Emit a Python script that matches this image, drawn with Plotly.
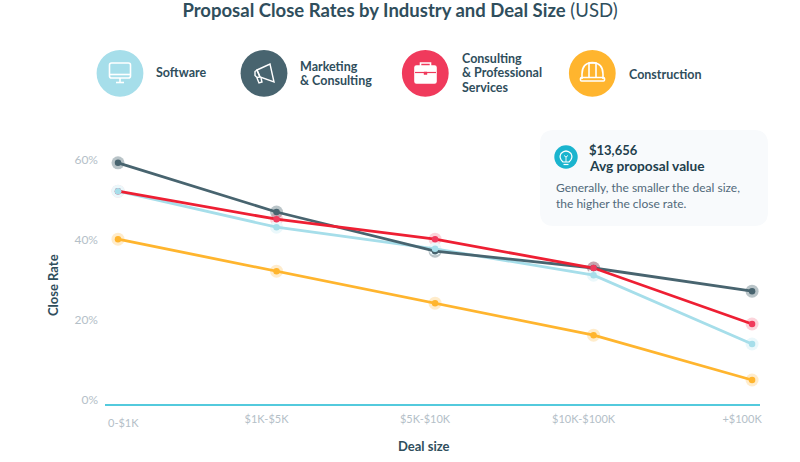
import plotly.graph_objects as go

deal_sizes = ["0-$1K", "$1K-$5K", "$5K-$10K", "$10K-$100K", "+$100K"]
marketing = [59.3, 47, 37.2, 33, 27.2]
consulting = [52.2, 45.2, 40.2, 33, 19]
software = [52.2, 43.2, 37.8, 31.2, 14]
construction = [40.2, 32.2, 24.2, 16.2, 5]
y_ticks = [0, 20, 40, 60]
y_labels = ["0%", "20%", "40%", "60%"]

FONT = "Lato"
DARK = "#2F4E5C"
GREY = "#B4C0C8"
L, R, T, B = 105, 760, 160, 405


def X(p):
    return (p - L) / (R - L)


def Y(p):
    return (B - p) / (B - T)


def path(*cmds):
    out = []
    for c in cmds:
        if isinstance(c, str):
            out.append(c)
        else:
            out.append(f"{X(c[0]):.5f},{Y(c[1]):.5f}")
    return " ".join(out)


def poly(points, close=True):
    cmds = ["M", points[0]]
    for p in points[1:]:
        cmds += ["L", p]
    if close:
        cmds.append("Z")
    return path(*cmds)


def pshape(d, fill="rgba(0,0,0,0)", color="white", width=1.6):
    return dict(type="path", xref="paper", yref="paper", path=d, fillcolor=fill,
                line=dict(color=color, width=width), layer="above")


def circle(cx, cy, r, fill):
    return dict(type="circle", xref="paper", yref="paper", x0=X(cx - r), x1=X(cx + r),
                y0=Y(cy + r), y1=Y(cy - r), fillcolor=fill, line=dict(width=0), layer="above")


def rrect(x0, y0, x1, y1, r):
    return path("M", (x0 + r, y0), "L", (x1 - r, y0), "Q", (x1, y0), (x1, y0 + r),
                "L", (x1, y1 - r), "Q", (x1, y1), (x1 - r, y1),
                "L", (x0 + r, y1), "Q", (x0, y1), (x0, y1 - r),
                "L", (x0, y0 + r), "Q", (x0, y0), (x0 + r, y0), "Z")


shapes = []
# baseline
shapes.append(dict(type="line", xref="paper", yref="paper", x0=0, x1=1, y0=0, y1=0,
                   line=dict(color="#1AB8D2", width=1.5), layer="above"))
# insight card
s = pshape(rrect(540, 130, 768, 226, 14), fill="#F8FAFC", color="rgba(0,0,0,0)", width=0)
s["layer"] = "below"
shapes.append(s)
# legend discs
shapes += [circle(120, 73.3, 23.4, "#A6DEEA"), circle(264, 73.3, 23.4, "#48646F"),
           circle(425.3, 73.3, 23.4, "#F03A5C"), circle(592.3, 73.3, 23.4, "#FFB52E")]
# monitor
shapes.append(pshape(rrect(109.5, 63, 130.5, 78, 2)))
shapes.append(pshape(poly([(110, 74.5), (130, 74.5)], False)))
shapes.append(pshape(poly([(120, 78), (120, 82)], False)))
shapes.append(pshape(poly([(116, 82.5), (124, 82.5)], False)))
# megaphone
shapes.append(pshape(poly([(257, 70), (270, 64), (274, 82), (260, 77)]), width=1.4))
shapes.append(pshape(poly([(257, 70), (255, 71.5), (255, 75.5), (257, 77.5), (260, 77)]), width=1.4))
shapes.append(pshape(poly([(257, 78), (259, 83), (262, 82), (261, 78)], False), width=1.4))
# briefcase
shapes.append(pshape(rrect(415, 66, 436, 83, 1.5), fill="white"))
shapes.append(pshape(poly([(420.5, 66), (420.5, 63), (430.5, 63), (430.5, 66)], False)))
shapes.append(pshape(poly([(415, 72.5), (436, 72.5)], False), color="#F03A5C", width=1.2))
shapes.append(pshape(poly([(424, 72), (427, 72), (427, 74.5), (424, 74.5)]), color="#F03A5C", fill="#F03A5C", width=0.5))
# hard hat
shapes.append(pshape(path("M", (582, 79), "L", (582, 74), "Q", (582, 63), (592.3, 62.5),
                          "Q", (603, 63), (603, 74), "L", (603, 79))))
shapes.append(pshape(rrect(580.5, 77.5, 604.5, 81, 1)))
shapes.append(pshape(poly([(589, 77), (589, 63), (596, 63), (596, 77)], False)))
# bulb badge
shapes.append(circle(566, 157, 11.7, "#1AB4CE"))
shapes.append(pshape(path("M", (563, 162), "Q", (558.5, 158), (561, 153.5), "Q", (566, 148.5), (571, 153.5),
                          "Q", (573.5, 158), (569, 162), "Z"), width=1.2))
shapes.append(pshape(poly([(563.5, 164.5), (568.5, 164.5)], False), width=1.2))
shapes.append(pshape(poly([(566, 162), (566, 157), (564, 155.5)], False), width=0.9))
shapes.append(pshape(poly([(566, 157), (568, 155.5)], False), width=0.9))


def note(px, py, text, size=13, color=DARK, anchor="left", angle=0):
    return dict(xref="paper", yref="paper", x=X(px), y=Y(py), text=text, showarrow=False,
                xanchor=anchor, yanchor="middle", align="left", textangle=angle,
                xshift=-1 if anchor == "left" else 0,
                font=dict(family=FONT, size=size, color=color))


annotations = [
    note(155, 72.5, "<b>Software</b>", 12.5),
    note(299, 66, "<b>Marketing</b>", 12.5),
    note(299, 80, "<b>&amp; Consulting</b>", 12.5),
    note(461, 59, "<b>Consulting</b>", 12.5),
    note(461, 73, "<b>&amp; Professional</b>", 12.5),
    note(461, 87.5, "<b>Services</b>", 12.5),
    note(628, 74, "<b>Construction</b>", 12.5),
    note(588, 150, "<b>$13,656</b>", 13, "#1F3F4D"),
    note(588, 165.5, "<b>Avg proposal value</b>", 13.7, "#1F3F4D"),
    note(555, 187, "Generally, the smaller the deal size,", 12, "#51697A"),
    note(555, 203, "the higher the close rate.", 12, "#51697A"),
    note(424, 446, "<b>Deal size</b>", 13, DARK, "center"),
    note(53, 285, "<b>Close Rate</b>", 13, DARK, "center", -90),
    note(123, 422, deal_sizes[0], 11, GREY, "center"),
]

fig = go.Figure()
series = [
    ("Marketing & Consulting", marketing, "#48646F", "#48646F", "rgba(72,100,111,0.38)"),
    ("Consulting & Professional Services", consulting, "#EE1F33", "#F03A5C", "rgba(240,58,92,0.22)"),
    ("Construction", construction, "#FFB52E", "#FFB52E", "rgba(255,181,46,0.25)"),
    ("Software", software, "#A6DEEA", "#A6DEEA", "#EBF8FB"),
]
line_order = [series[3], series[0], series[1], series[2]]
for name, vals, line, dot, halo in series:
    fig.add_trace(go.Scatter(x=deal_sizes, y=vals, mode="markers", name=name, showlegend=False,
                             cliponaxis=False, hoverinfo="skip",
                             marker=dict(size=13, color=halo)))
for name, vals, line, dot, halo in line_order:
    fig.add_trace(go.Scatter(x=deal_sizes, y=vals, mode="lines", name=name, showlegend=False,
                             cliponaxis=False, line=dict(color=line, width=2.8)))
for name, vals, line, dot, halo in [series[0], series[3], series[1], series[2]]:
    fig.add_trace(go.Scatter(x=deal_sizes, y=vals, mode="markers", name=name, showlegend=False,
                             cliponaxis=False, marker=dict(size=6.5, color=dot)))
# light-blue dot sits on top where it meets the red one at the first deal size
fig.add_trace(go.Scatter(x=deal_sizes[:1], y=software[:1], mode="markers", name="Software",
                         showlegend=False, cliponaxis=False, hoverinfo="skip",
                         marker=dict(size=6.5, color="#A6DEEA")))

fig.update_layout(
    width=800, height=462, autosize=False,
    margin=dict(l=L, r=800 - R, t=T, b=462 - B),
    paper_bgcolor="white", plot_bgcolor="white", showlegend=False,
    font=dict(family=FONT),
    title=dict(text="<b>Proposal Close Rates by Industry and Deal Size</b> (USD)",
               x=0.5, xanchor="center", y=0.977, yanchor="middle",
               font=dict(family=FONT, size=18.5, color=DARK)),
    xaxis=dict(type="category", categoryorder="array", categoryarray=deal_sizes,
               range=[-0.082, 4.05], showgrid=False, zeroline=False,
               showline=False, ticks="",
               tickmode="array", tickvals=deal_sizes[1:], ticktext=deal_sizes[1:],
               ticklabelshift=-10, ticklabelstandoff=6,
               tickfont=dict(family=FONT, size=11, color=GREY)),
    yaxis=dict(range=[-1.25, 60], showgrid=False, zeroline=False, showline=False,
               tickmode="array", tickvals=y_ticks, ticktext=y_labels, ticks="",
               ticklabelstandoff=6,
               tickfont=dict(family=FONT, size=12, color=GREY)),
    shapes=shapes, annotations=annotations,
)
fig.write_html("out.html", config=dict(displayModeBar=False),
               post_script="document.body.style.margin='0';document.body.style.overflow='hidden';")
